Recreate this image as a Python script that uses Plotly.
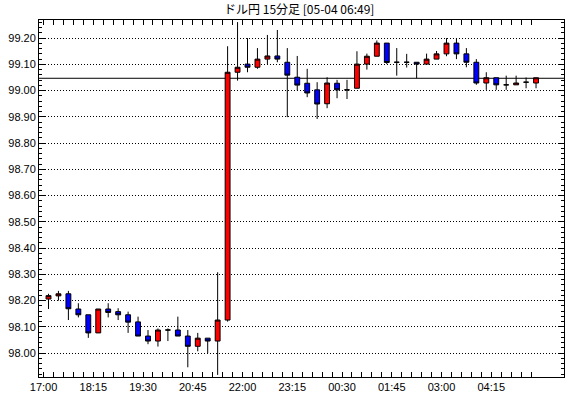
import plotly.graph_objects as go

# --- data (15-minute USD/JPY candles) ---
opens  = [98.206, 98.218, 98.226, 98.168, 98.146, 98.077, 98.168, 98.158, 98.146, 98.119,
          98.065, 98.046, 98.088, 98.088, 98.065, 98.026, 98.057, 98.046, 98.126, 99.070,
          99.101, 99.089, 99.120, 99.132, 99.108, 99.051, 99.028, 99.003, 98.950, 99.028,
          99.003, 99.009, 99.101, 99.131, 99.181, 99.108, 99.108, 99.108, 99.101, 99.120,
          99.140, 99.181, 99.140, 99.108, 99.029, 99.049, 99.022, 99.022, 99.032, 99.029]
highs  = [98.226, 98.237, 98.237, 98.190, 98.146, 98.168, 98.190, 98.171, 98.158, 98.139,
          98.088, 98.094, 98.094, 98.139, 98.088, 98.077, 98.057, 98.308, 99.169, 99.261,
          99.200, 99.162, 99.212, 99.231, 99.162, 99.132, 99.083, 99.032, 99.051, 99.041,
          99.041, 99.150, 99.141, 99.191, 99.181, 99.162, 99.140, 99.108, 99.141, 99.151,
          99.200, 99.200, 99.162, 99.120, 99.070, 99.049, 99.057, 99.057, 99.050, 99.049]
lows   = [98.168, 98.200, 98.126, 98.136, 98.058, 98.077, 98.136, 98.126, 98.077, 98.065,
          98.034, 98.025, 98.046, 98.065, 97.946, 98.007, 98.000, 97.917, 98.120, 99.038,
          99.070, 99.083, 99.101, 99.108, 98.899, 99.001, 98.975, 98.892, 98.933, 98.971,
          98.968, 99.009, 99.080, 99.131, 99.101, 99.057, 99.088, 99.047, 99.101, 99.120,
          99.131, 99.120, 99.089, 99.022, 99.003, 99.003, 99.003, 99.022, 99.009, 99.009]
closes = [98.219, 98.226, 98.169, 98.146, 98.077, 98.168, 98.155, 98.146, 98.118, 98.065,
          98.046, 98.088, 98.088, 98.065, 98.026, 98.057, 98.046, 98.126, 99.070, 99.089,
          99.089, 99.120, 99.132, 99.120, 99.059, 99.021, 98.991, 98.949, 99.029, 99.003,
          99.003, 99.101, 99.131, 99.181, 99.107, 99.108, 99.108, 99.101, 99.120, 99.140,
          99.181, 99.140, 99.108, 99.029, 99.049, 99.022, 99.022, 99.029, 99.032, 99.049]
candle_index = list(range(len(opens)))

time_labels = ["17:00", "18:15", "19:30", "20:45", "22:00", "23:15", "00:30", "01:45", "03:00", "04:15"]
label_index = [0, 5, 10, 15, 20, 25, 30, 35, 40, 45]
current_price = 99.047
title_text = "ドル円 15分足 [05-04 06:49]"

# tick positions between candles, label every 5
tickvals = [i - 0.5 for i in candle_index]
ticktext = []
for i in candle_index:
    ticktext.append(time_labels[label_index.index(i)] if i in label_index else "")

fig = go.Figure()
fig.add_trace(go.Candlestick(
    x=candle_index, open=opens, high=highs, low=lows, close=closes,
    increasing=dict(fillcolor="#FF0000", line=dict(color="#000000", width=1)),
    decreasing=dict(fillcolor="#0000FF", line=dict(color="#000000", width=1)),
    whiskerwidth=0, showlegend=False, hoverinfo="skip",
))

fig.add_shape(type="line", xref="paper", x0=0, x1=1, yref="y",
              y0=current_price, y1=current_price,
              line=dict(color="#000000", width=1), layer="below")

fig.update_layout(
    width=570, height=398,
    margin=dict(l=39, r=6, t=20, b=21),
    paper_bgcolor="#FFFFFF", plot_bgcolor="#FFFFFF",
    font=dict(family="Liberation Sans, Arial, sans-serif", size=11, color="#000000"),
    title=dict(text=title_text, x=0.525, xanchor="center", y=1 - 10 / 398, yanchor="middle",
               yref="container",
               font=dict(family="Noto Sans CJK JP", size=12, color="#000000")),
    showlegend=False,
)

fig.update_xaxes(
    type="linear", range=[-0.955, 51.81],
    rangeslider=dict(visible=False),
    tickmode="array", tickvals=tickvals, ticktext=ticktext,
    ticks="inside", ticklen=5, tickcolor="#000000", tickwidth=1,
    showgrid=False, zeroline=False,
    showline=True, linecolor="#000000", linewidth=1, mirror="allticks",
    tickfont=dict(size=11),
)

fig.update_yaxes(
    range=[97.909, 99.269],
    tickmode="linear", tick0=98.0, dtick=0.1, tickformat=".2f",
    ticks="inside", ticklen=6, tickcolor="#000000", tickwidth=1,
    minor=dict(dtick=0.02, tick0=98.0, ticks="inside", ticklen=3, tickcolor="#000000", showgrid=False),
    showgrid=True, gridcolor="#000000", gridwidth=1, griddash="1px,2px",
    zeroline=False,
    showline=True, linecolor="#000000", linewidth=1, mirror="allticks",
    tickfont=dict(size=11),
)

fig.write_html("out.html")
